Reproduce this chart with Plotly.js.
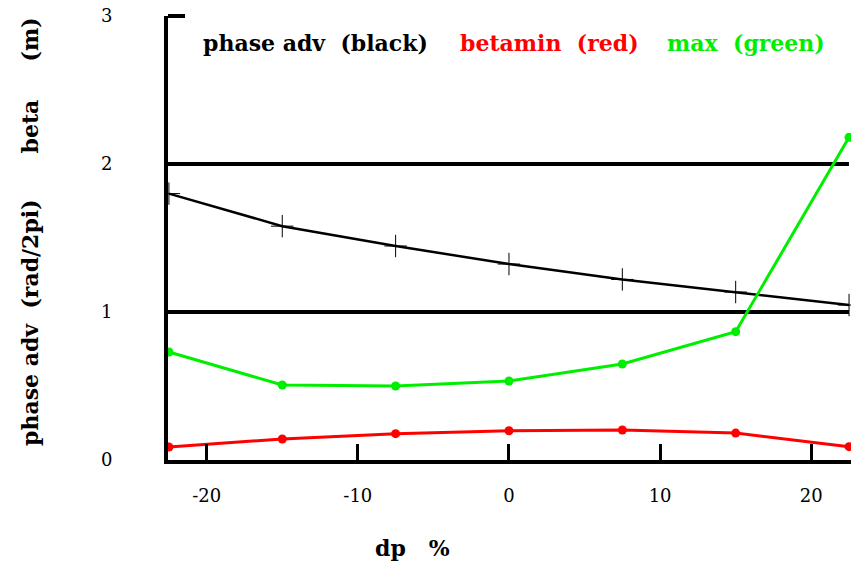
<!DOCTYPE html>
<html>
<head>
<meta charset="utf-8">
<script src="https://cdn.plot.ly/plotly-3.0.1.min.js"></script>
<style>
  html, body { margin: 0; padding: 0; background: #fff; }
  #chart { width: 851px; height: 565px; }
</style>
</head>
<body>
<div id="chart"></div>
<script>
// Momentum offset dp (%) at which the lattice was evaluated
const dp = [-22.5, -15, -7.5, 0, 7.5, 15, 22.5];
// Phase advance per cell (rad/2pi)
const phaseAdv = [1.80, 1.58, 1.446, 1.324, 1.22, 1.135, 1.047];
// Minimum beta (m)
const betaMin = [0.088, 0.142, 0.178, 0.198, 0.203, 0.182, 0.09];
// Maximum beta (m)
const betaMax = [0.73, 0.507, 0.50, 0.534, 0.649, 0.867, 2.18];
// Reference levels drawn across the plot
const refLevels = [1, 2];
// Axis ticks
const xTicks = [-20, -10, 0, 10, 20];
const yTicks = [0, 1, 2, 3];

const serif = "DejaVu Serif";
const sp = n => '\u00a0'.repeat(n);

const traces = [
  {
    x: dp, y: phaseAdv, type: 'scatter', mode: 'lines+markers',
    line: { color: '#000000', width: 2.5 },
    marker: { symbol: 'line-ns', size: 16, line: { color: '#000000', width: 1 } },
    hoverinfo: 'skip'
  },
  {
    x: dp, y: phaseAdv, type: 'scatter', mode: 'markers',
    marker: { symbol: 'line-ew', size: 16, line: { color: '#000000', width: 1 } },
    hoverinfo: 'skip'
  },
  {
    x: dp, y: betaMin, type: 'scatter', mode: 'lines+markers',
    line: { color: '#ff0000', width: 3 },
    marker: { color: '#ff0000', size: 9 },
    hoverinfo: 'skip'
  },
  {
    x: dp, y: betaMax, type: 'scatter', mode: 'lines+markers',
    line: { color: '#00ee00', width: 3 },
    marker: { color: '#00ee00', size: 9 },
    hoverinfo: 'skip'
  }
];

const shapes = refLevels.map(v => ({
  type: 'line', xref: 'paper', yref: 'y',
  x0: 0, x1: 0.997, y0: v, y1: v,
  line: { color: '#000000', width: 4 },
  layer: 'below'
}));

// short tick marking the top of the vertical axis
shapes.push({
  type: 'line', xref: 'paper', yref: 'paper',
  x0: 0, x1: 17 / 683, y0: 1, y1: 1,
  line: { color: '#000000', width: 4 }
});

const legendItems = [
  { text: 'phase adv' + sp(2) + '(black)', color: '#000000', x: 201 },
  { text: 'betamin' + sp(2) + '(red)', color: '#ff0000', x: 458 },
  { text: 'max' + sp(2) + '(green)', color: '#00ee00', x: 665 }
];

const annotations = legendItems.map(it => ({
  text: '<b>' + it.text + '</b>', xref: 'paper', yref: 'paper',
  x: (it.x - 168) / 683, y: (460 - 43) / 444,
  xanchor: 'left', yanchor: 'middle', showarrow: false,
  font: { family: serif, size: 22, color: it.color }
}));

annotations.push({
  text: '<b>phase adv' + sp(2) + '(rad/2pi)' + sp(6) + 'beta' + sp(5) + '(m)</b>',
  xref: 'paper', yref: 'paper',
  x: (30 - 168) / 683, y: (460 - 232) / 444,
  xanchor: 'center', yanchor: 'middle', textangle: -90, showarrow: false,
  font: { family: serif, size: 22, color: '#000000' }
});

annotations.push({
  text: '<b>dp' + sp(3) + '%</b>',
  xref: 'paper', yref: 'paper',
  x: (412 - 168) / 683, y: -(548 - 460) / 444,
  xanchor: 'center', yanchor: 'middle', showarrow: false,
  font: { family: serif, size: 22, color: '#000000' }
});

const layout = {
  width: 851, height: 565,
  margin: { l: 168, r: 0, t: 16, b: 105 },
  paper_bgcolor: '#ffffff', plot_bgcolor: '#ffffff',
  showlegend: false,
  font: { family: serif, size: 18, color: '#000000' },
  xaxis: {
    range: [-22.56, 22.63], tickvals: xTicks, ticktext: xTicks.map(String),
    showgrid: false, zeroline: false,
    showline: true, linewidth: 4, linecolor: '#000000',
    ticks: 'inside', ticklen: 16, tickwidth: 3, tickcolor: '#000000',
    ticklabelstandoff: 16,
    tickfont: { family: serif, size: 18 }
  },
  yaxis: {
    range: [0, 3], tickvals: yTicks, ticktext: yTicks.map(String),
    showgrid: false, zeroline: false,
    showline: true, linewidth: 4, linecolor: '#000000',
    ticks: '',
    ticklabelstandoff: 48,
    tickfont: { family: serif, size: 18 }
  },
  shapes: shapes,
  annotations: annotations
};

Plotly.newPlot('chart', traces, layout, { displayModeBar: false, staticPlot: true });
</script>
</body>
</html>
